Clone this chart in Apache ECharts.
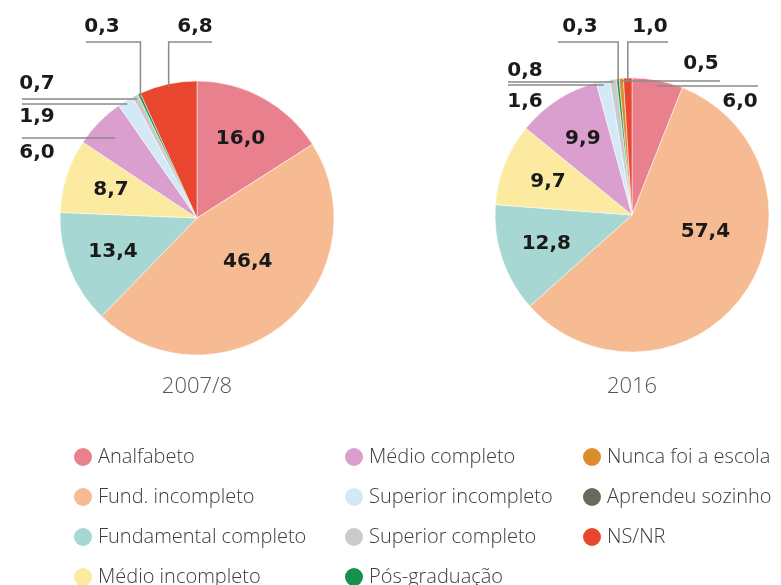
<!DOCTYPE html>
<html>
<head>
<meta charset="utf-8">
<script src="https://cdn.jsdelivr.net/npm/echarts@6/dist/echarts.min.js"></script>
<style>
html,body{margin:0;padding:0;background:#ffffff;}
#chart{width:781px;height:585px;}
</style>
</head>
<body>
<div id="chart"></div>
<script>
// ---------- DATA ----------
const categories = ['Analfabeto','Fund. incompleto','Fundamental completo','Médio incompleto','Médio completo','Superior incompleto','Superior completo','Pós-graduação','Nunca foi a escola','Aprendeu sozinho','NS/NR'];
const values2007 = [16.0, 46.4, 13.4, 8.7, 6.0, 1.9, 0.7, 0.3, null, null, 6.8];
const values2016 = [6.0, 57.4, 12.8, 9.7, 9.9, 1.6, 0.8, 0.3, 0.5, null, 1.0];
const periodLabels = ['2007/8', '2016'];

// ---------- STYLE / LAYOUT ----------
const colors = ['#E9808E','#F6BB93','#A7D7D3','#FBEAA0','#DA9ECF','#D3EAF6','#CACACA','#12924A','#DB8C2E','#6C675F','#E8462F'];
const legendColumns = [[0,1,2,3],[4,5,6,7],[8,9,10]];
const legendLeft = [72, 343, 581];

const pies = [
  { values: values2007, title: periodLabels[0], cx: 197, cy: 218, r: 137, titleY: 387,
    inner: 0.66, big: { radius: 0.49, shift: 10 },
    outside: {
      4:  { tx: 37,  ty: 153, mode: 'h', ly: 138, from: 22 },
      5:  { tx: 37,  ty: 117, mode: 'h', ly: 104, from: 22 },
      6:  { tx: 37,  ty: 84,  mode: 'h', ly: 99,  from: 22 },
      7:  { tx: 102, ty: 27,  mode: 'v', ly: 42,  from: 86 },
      10: { tx: 195, ty: 27,  mode: 'v', ly: 42,  to: 212 }
    } },
  { values: values2016, title: periodLabels[1], cx: 632, cy: 215, r: 137, titleY: 387,
    inner: 0.66, big: { radius: 0.55, shift: 22 },
    outside: {
      0:  { tx: 740, ty: 102, mode: 'h', ly: 86, to: 758 },
      5:  { tx: 525, ty: 102, mode: 'h', ly: 85, from: 508 },
      6:  { tx: 525, ty: 71,  mode: 'h', ly: 82, from: 508 },
      7:  { tx: 580, ty: 27,  mode: 'v', ly: 42, from: 558 },
      8:  { tx: 701, ty: 64,  mode: 'h', ly: 81, to: 720 },
      10: { tx: 650, ty: 27,  mode: 'v', ly: 42, to: 668 }
    } }
];

function fmt(v) { return v.toFixed(1).replace('.', ','); }

// mid angle (degrees, math convention) of slice k, pie starting at 12 o'clock clockwise
function midAngle(vals, k) {
  let sum = 0, before = 0;
  vals.forEach((v, i) => { if (v != null) { sum += v; if (i < k) before += v; } });
  return 90 - (before + vals[k] / 2) / sum * 360;
}
function polar(p, deg, t) {
  const a = deg * Math.PI / 180;
  return [p.cx + t * Math.cos(a), p.cy - t * Math.sin(a)];
}

// ---------- GRAPHICS (leader lines + titles) ----------
const graphics = [];
pies.forEach(p => {
  graphics.push({
    type: 'text', x: p.cx, y: p.titleY, z: 100, silent: true,
    style: { text: p.title, fill: '#555555', fontFamily: 'Open Sans', fontSize: 22, fontWeight: 300, align: 'center', verticalAlign: 'middle' }
  });
  Object.keys(p.outside).forEach(key => {
    const k = +key, o = p.outside[k], v = p.values[k];
    if (v == null) return;
    const mid = midAngle(p.values, k);
    const start = o.from != null ? o.from : o.to;
    let pts;
    if (o.mode === 'v') {
      const P = polar(p, mid, p.r - 3);
      pts = [[start, o.ly], [P[0], o.ly], [P[0], P[1]]];
    } else {
      const s = Math.sin(mid * Math.PI / 180);
      const t = (p.cy - o.ly) / s;
      if (t > 0 && t <= p.r - 0.5) {
        const E = polar(p, mid, t);
        pts = [[start, o.ly], [E[0], o.ly]];
      } else {
        const P = polar(p, mid, p.r - 3);
        pts = [[start, o.ly], [P[0], P[1]]];
      }
    }
    graphics.push({
      type: 'polyline', z: 100, silent: true,
      shape: { points: pts },
      style: { stroke: '#8a8a8a', lineWidth: 1.5, fill: null }
    });
  });
});

// ---------- SERIES ----------
const series = pies.map((p, si) => {
  const maxV = Math.max(...p.values.filter(v => v != null));
  return {
    type: 'pie',
    center: [p.cx, p.cy],
    radius: p.r,
    startAngle: 90,
    clockwise: true,
    avoidLabelOverlap: false,
    animation: false,
    emphasis: { disabled: true },
    itemStyle: { borderColor: '#ffffff', borderWidth: 0.5 },
    labelLine: { show: false },
    label: {
      show: true,
      position: 'inside',
      fontFamily: 'DejaVu Sans',
      fontWeight: 'bold',
      fontSize: 20,
      color: '#1a1a1a',
      formatter: prm => (prm.value == null || isNaN(prm.value)) ? '' : fmt(prm.value)
    },
    labelLayout: function (prm) {
      const k = prm.dataIndex, v = p.values[k];
      if (v == null) return {};
      const o = p.outside[k];
      if (o) return { x: o.tx, y: o.ty, align: 'center', verticalAlign: 'middle' };
      const mid = midAngle(p.values, k);
      let pos;
      if (v === maxV) pos = polar(p, mid + p.big.shift, p.r * p.big.radius);
      else pos = polar(p, mid, p.r * p.inner);
      return { x: pos[0], y: pos[1], align: 'center', verticalAlign: 'middle' };
    },
    data: categories.map((name, k) => ({ name: name, value: p.values[k], itemStyle: { color: colors[k] } }))
  };
});

// ---------- LEGENDS ----------
const legends = legendColumns.map((col, i) => ({
  orient: 'vertical',
  left: legendLeft[i],
  top: 446,
  height: 200,
  padding: 0,
  icon: 'circle',
  itemWidth: 20,
  itemHeight: 20,
  itemGap: 18,
  selectedMode: false,
  data: col.map(k => categories[k]),
  textStyle: { fontFamily: 'Open Sans', fontSize: 20, lineHeight: 20, fontWeight: 300, color: '#3c3c3c' }
}));

const chart = echarts.init(document.getElementById('chart'), null, { renderer: 'canvas' });
chart.setOption({
  animation: false,
  backgroundColor: '#ffffff',
  legend: legends,
  graphic: graphics,
  series: series
});
</script>
</body>
</html>
